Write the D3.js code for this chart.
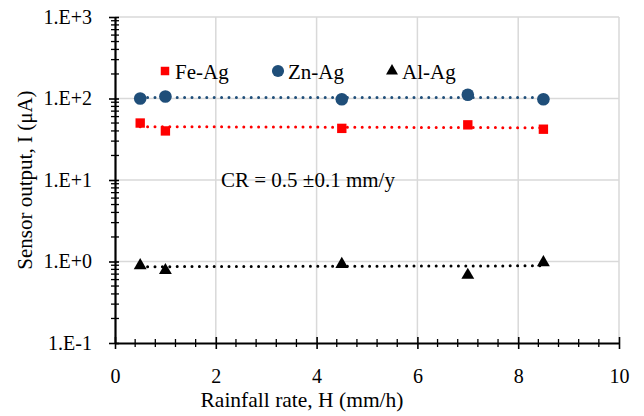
<!DOCTYPE html>
<html><head><meta charset="utf-8">
<script src="https://cdn.jsdelivr.net/npm/d3@7"></script>
<style>body{margin:0;background:#fff}svg text{font-family:"Liberation Serif","Times New Roman",serif;}</style>
</head><body><svg id="c" width="644" height="416"></svg>
<script>
const rainfall = [0.5, 1, 4.5, 7, 8.5];
const feAg = [50, 40, 43, 47.5, 42];
const znAg = [100, 106, 98, 111, 98];
const alAg = [0.92, 0.80, 0.95, 0.70, 1.0];
const seriesNames = ["Fe-Ag", "Zn-Ag", "Al-Ag"];
const yTickValues = [0.1, 1, 10, 100, 1000];
const yTickLabels = ["1.E-1", "1.E+0", "1.E+1", "1.E+2", "1.E+3"];
const xTickValues = [0, 2, 4, 6, 8, 10];
const annotation = "CR = 0.5 \u00B10.1 mm/y";

const svg = d3.select("#c");
const L = 115, R = 619, T = 17, B = 343;
const x = d3.scaleLinear().domain([0, 10]).range([L, R]);
const y = d3.scaleLog().domain([0.1, 1000]).range([B, T]);
const grid = "#d9d9d9";

// gridlines
svg.append("g").selectAll("line").data(xTickValues.slice(1)).join("line")
  .attr("x1", d => x(d)).attr("x2", d => x(d)).attr("y1", T).attr("y2", B)
  .attr("stroke", grid).attr("stroke-width", 1.5);
svg.append("g").selectAll("line").data(yTickValues.slice(1)).join("line")
  .attr("x1", L).attr("x2", R).attr("y1", d => y(d)).attr("y2", d => y(d))
  .attr("stroke", grid).attr("stroke-width", 1.5);

// minor ticks
const yMinor = [];
for (let e = -1; e < 3; e++) for (let m = 2; m <= 9; m++) yMinor.push(m * Math.pow(10, e));
svg.append("g").selectAll("line").data(yMinor).join("line")
  .attr("x1", L - 4).attr("x2", L + 4).attr("y1", d => y(d)).attr("y2", d => y(d))
  .attr("stroke", "#000").attr("stroke-width", 1.3);
const xMinor = d3.range(0, 10.001, 0.4).filter(v => Math.abs(v / 2 - Math.round(v / 2)) > 0.01);
svg.append("g").selectAll("line").data(xMinor).join("line")
  .attr("x1", d => x(d)).attr("x2", d => x(d)).attr("y1", B - 4).attr("y2", B + 4)
  .attr("stroke", "#000").attr("stroke-width", 1.3);

// axes
const yAxis = d3.axisLeft(y).tickValues(yTickValues).tickFormat((d, i) => yTickLabels[i]).tickSizeInner(6).tickSizeOuter(0).tickPadding(17);
const yg = svg.append("g").attr("transform", `translate(${L},0)`).call(yAxis);
const xAxis = d3.axisBottom(x).tickValues(xTickValues).tickFormat(d3.format("d")).tickSizeInner(6).tickSizeOuter(0).tickPadding(20);
const xg = svg.append("g").attr("transform", `translate(0,${B})`).call(xAxis);
[yg, xg].forEach(g => {
  g.select(".domain").attr("stroke", "#000").attr("stroke-width", 2.2);
  g.selectAll(".tick line").attr("stroke", "#000").attr("stroke-width", 1.6);
  g.selectAll("text").attr("font-size", 20).attr("fill", "#000").attr("font-family", "Liberation Serif");
});
yg.selectAll(".tick line").attr("x1", 4);
xg.selectAll(".tick line").attr("y1", -6);

// axis titles
svg.append("text").attr("x", 302).attr("y", 407).attr("text-anchor", "middle")
  .attr("font-size", 21.5).text("Rainfall rate, H (mm/h)");
svg.append("text").attr("transform", `translate(32,${(T + B) / 2}) rotate(-90)`).attr("text-anchor", "middle")
  .attr("font-size", 21).text("Sensor output, I (\u03BCA)");

// trendlines
function fit(xs, ys) {
  const mx = d3.mean(xs), my = d3.mean(ys);
  let sxy = 0, sxx = 0;
  xs.forEach((v, i) => { sxy += (v - mx) * (ys[i] - my); sxx += (v - mx) * (v - mx); });
  const b = sxy / sxx, a = my - b * mx;
  return v => a + b * v;
}
const series = [
  {name: seriesNames[0], vals: feAg, color: "#ff0000", shape: "square"},
  {name: seriesNames[1], vals: znAg, color: "#1f4e79", shape: "circle"},
  {name: seriesNames[2], vals: alAg, color: "#000000", shape: "triangle"}
];
const line = d3.line().x(d => x(d[0])).y(d => y(d[1]));
series.forEach(s => {
  const f = fit(rainfall, s.vals);
  const x0 = d3.min(rainfall), x1 = d3.max(rainfall);
  const pts = d3.range(0, 41).map(i => { const v = x0 + (x1 - x0) * i / 40; return [v, f(v)]; });
  svg.append("path").datum(pts).attr("d", line).attr("fill", "none")
    .attr("stroke", s.color).attr("stroke-width", 3).attr("stroke-linecap", "round")
    .attr("stroke-dasharray", "0 7.4");
});

// markers
const sym = {square: d3.symbolSquare, circle: d3.symbolCircle, triangle: d3.symbolTriangle};
const size = {square: 88, circle: 125, triangle: 72};
series.forEach(s => {
  svg.append("g").selectAll("path").data(rainfall).join("path")
    .attr("transform", (d, i) => `translate(${x(d)},${y(s.vals[i]) + (s.shape === "triangle" ? 1 : 0)})`)
    .attr("d", d3.symbol().type(sym[s.shape]).size(size[s.shape]))
    .attr("fill", s.color);
});

// legend
const legX = [165, 278, 392];
const legSize = {square: 72, circle: 115, triangle: 62};
series.forEach((s, i) => {
  svg.append("path").attr("transform", `translate(${legX[i]},${71})`)
    .attr("d", d3.symbol().type(sym[s.shape]).size(legSize[s.shape])).attr("fill", s.color);
  svg.append("text").attr("x", legX[i] + 10).attr("y", 78.5).attr("font-size", 21).text(s.name);
});

// annotation
svg.append("text").attr("x", 221).attr("y", 187).attr("font-size", 21).text(annotation);
</script></body></html>
